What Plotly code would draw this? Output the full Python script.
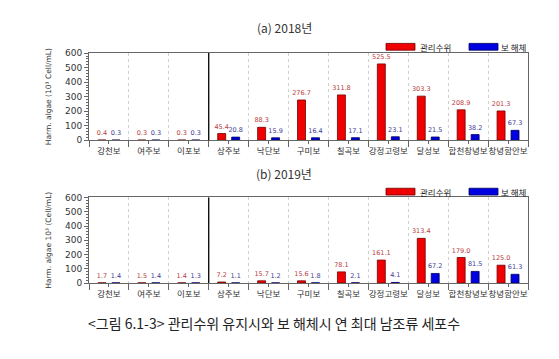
import plotly.graph_objects as go

categories = ["강천보", "여주보", "이포보", "상주보", "낙단보", "구미보", "칠곡보",
              "강정고령보", "달성보", "합천창녕보", "창녕함안보"]
red_2018 = [0.4, 0.3, 0.3, 45.4, 88.3, 276.7, 311.8, 525.5, 303.3, 208.9, 201.3]
blue_2018 = [0.3, 0.3, 0.3, 20.8, 15.9, 16.4, 17.1, 23.1, 21.5, 38.2, 67.3]
red_2019 = [1.7, 1.5, 1.4, 7.2, 15.7, 15.6, 78.1, 161.1, 313.4, 179.0, 125.0]
blue_2019 = [1.4, 1.4, 1.3, 1.1, 1.2, 1.8, 2.1, 4.1, 67.2, 81.5, 61.3]
series_names = ["관리수위", "보 해체"]
y_ticks = [0, 100, 200, 300, 400, 500, 600]

W, H = 559, 359
RED, BLUE = "#f00000", "#0000e0"
RED_TXT, BLUE_TXT = "#b83c3c", "#3c3c96"
xs = list(range(len(categories)))

fig = go.Figure()

def add_bars(red, blue, xa, ya):
    fig.add_trace(go.Bar(x=xs, y=red, width=0.2, offset=-0.275, name=series_names[0],
                         marker=dict(color=RED, line=dict(color="#700000", width=0.8)),
                         texttemplate="%{y:.1f}", textposition="outside", textangle=0,
                         constraintext="none", cliponaxis=False,
                         textfont=dict(family="DejaVu Sans", size=6.5, color=RED_TXT),
                         xaxis=xa, yaxis=ya, showlegend=False))
    fig.add_trace(go.Bar(x=xs, y=blue, width=0.2, offset=0.075, name=series_names[1],
                         marker=dict(color=BLUE, line=dict(color="#000060", width=0.8)),
                         texttemplate="%{y:.1f}", textposition="outside", textangle=0,
                         constraintext="none", cliponaxis=False,
                         textfont=dict(family="DejaVu Sans", size=6.5, color=BLUE_TXT),
                         xaxis=xa, yaxis=ya, showlegend=False))

add_bars(red_2018, blue_2018, "x", "y")
add_bars(red_2019, blue_2019, "x2", "y2")

xdom = [89 / W, 528 / W]
top_dom = [1 - 139 / H, 1 - 49.5 / H]
bot_dom = [1 - 286 / H, 1 - 198 / H]

xaxis_common = dict(range=[-0.5, 10.5], tickmode="array", tickvals=xs, ticktext=categories,
                    tickangle=0,
                    showgrid=False, zeroline=False, showline=True, linecolor="#666",
                    linewidth=1, mirror=True, ticks="outside", ticklen=3, tickcolor="#666",
                    tickfont=dict(family="Noto Sans CJK KR", size=8.5, color="#333"),
                    minor=dict(tick0=-0.5, dtick=1, ticks="outside", ticklen=6,
                               tickcolor="#666", showgrid=True, gridcolor="#d0d0d0",
                               griddash="dot", gridwidth=1),
                    domain=xdom, fixedrange=True)
yaxis_common = dict(range=[0, 600], tickvals=y_ticks, showgrid=False, zeroline=False,
                    showline=True, linecolor="#666", linewidth=1, mirror=True,
                    ticks="outside", ticklen=4, tickcolor="#666",
                    tickfont=dict(family="DejaVu Sans", size=9, color="#333"),
                    minor=dict(dtick=20, ticks="outside", ticklen=2, tickcolor="#666"),
                    fixedrange=True)

fig.update_layout(
    width=W, height=H, margin=dict(l=0, r=0, t=0, b=0),
    paper_bgcolor="white", plot_bgcolor="white", barmode="overlay",
    xaxis=dict(xaxis_common, anchor="y"),
    yaxis=dict(yaxis_common, domain=top_dom, anchor="x",
               title=dict(text="Harm. algae (10³ Cell/mL)", standoff=12,
                          font=dict(family="DejaVu Sans", size=7.5, color="#333"))),
    xaxis2=dict(xaxis_common, anchor="y2"),
    yaxis2=dict(yaxis_common, domain=bot_dom, anchor="x2",
                title=dict(text="Harm. algae 10³ (Cell/mL)", standoff=12,
                           font=dict(family="DejaVu Sans", size=7.5, color="#333"))),
    showlegend=False,
)

# separator line between 이포보 and 상주보
for xr, yr in (("x", "y domain"), ("x2", "y2 domain")):
    fig.add_shape(type="line", xref=xr, yref=yr, x0=2.5, x1=2.5, y0=0, y1=1,
                  line=dict(color="black", width=1.3))

# titles
title_font = dict(family="Noto Sans CJK KR", size=12, color="#333")
fig.add_annotation(text="(a) 2018년", x=284 / W, y=1 - 23 / H, xref="paper", yref="paper",
                   yanchor="middle", showarrow=False, font=title_font)
fig.add_annotation(text="(b) 2019년", x=284 / W, y=1 - 173 / H, xref="paper", yref="paper",
                   yanchor="middle", showarrow=False, font=title_font)

# legends
leg_font = dict(family="Noto Sans CJK KR", size=8.5, color="#222")
for ymid in (43, 192):
    fig.add_shape(type="rect", xref="paper", yref="paper",
                  x0=386 / W, x1=415 / W, y0=1 - (ymid + 3.5) / H, y1=1 - (ymid - 3.5) / H,
                  fillcolor=RED, line=dict(color="#700000", width=0.8))
    fig.add_shape(type="rect", xref="paper", yref="paper",
                  x0=469 / W, x1=498 / W, y0=1 - (ymid + 3.5) / H, y1=1 - (ymid - 3.5) / H,
                  fillcolor=BLUE, line=dict(color="#000060", width=0.8))
    fig.add_annotation(text=series_names[0], x=418 / W, y=1 - ymid / H, xref="paper",
                       yref="paper", xanchor="left", yanchor="middle", showarrow=False,
                       font=leg_font)
    fig.add_annotation(text=series_names[1], x=499 / W, y=1 - ymid / H, xref="paper",
                       yref="paper", xanchor="left", yanchor="middle", showarrow=False,
                       font=leg_font)

# caption
fig.add_annotation(text="<그림 6.1-3> 관리수위 유지시와 보 해체시 연 최대 남조류 세포수",
                   x=274 / W, y=1 - 327 / H, xref="paper", yref="paper", yanchor="middle",
                   showarrow=False,
                   font=dict(family="Noto Sans CJK KR", size=14, color="#222"))

fig.write_html("out.html", config={"displayModeBar": False},
               post_script="document.body.style.margin='0';")
